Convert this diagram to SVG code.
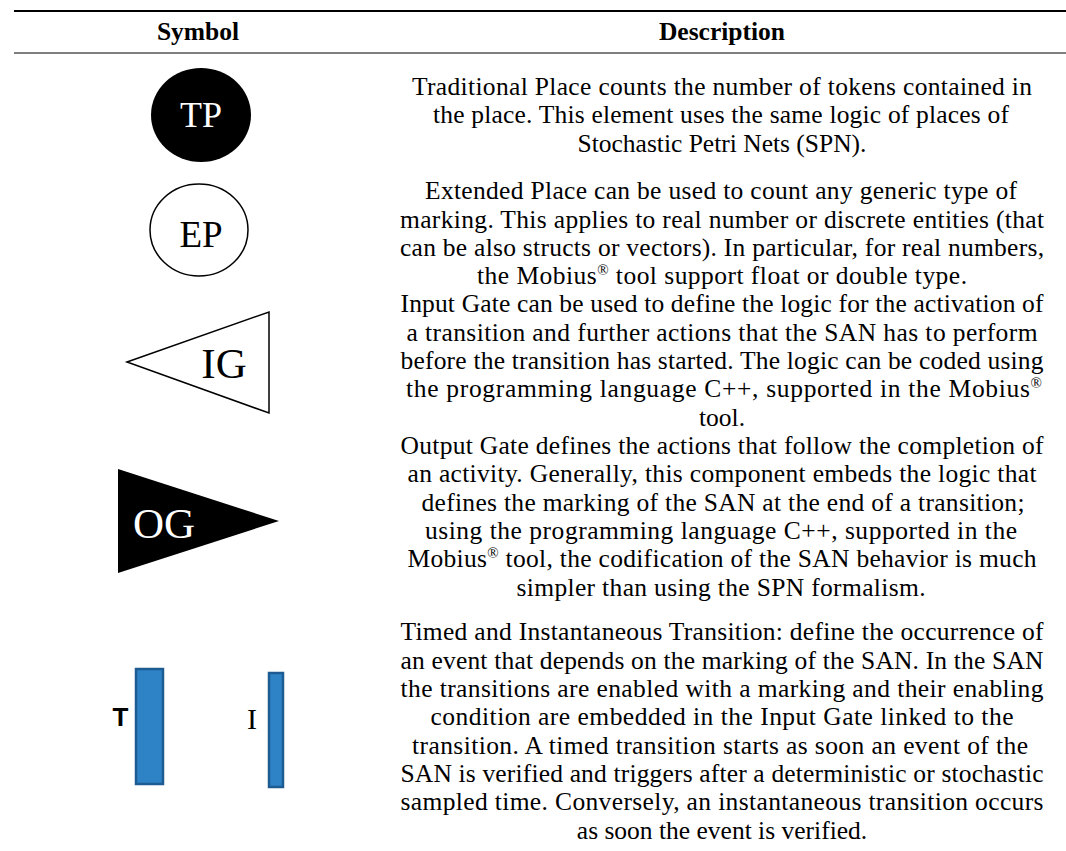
<svg xmlns="http://www.w3.org/2000/svg" width="1066" height="851" viewBox="0 0 1066 851">
  <style>
    .hd { font-family: "Liberation Serif", "Times New Roman", serif; font-weight: bold; font-size: 25.5px; fill: #000; text-anchor: middle; }
    .tx { font-family: "Liberation Serif", "Times New Roman", serif; font-size: 25.5px; fill: #000; text-anchor: middle; }
    .sup { font-size: 15px; }
    .lbl { font-family: "Liberation Serif", "Times New Roman", serif; text-anchor: middle; }
    .rule { stroke: #000; }
    .trans { fill: #2E82C6; stroke: #1C5C92; stroke-width: 2.5; }
  </style>

  <rect width="1066" height="851" fill="#fff"/>

  <!-- table rules -->
  <line class="rule" x1="14" y1="11" x2="1066" y2="11" stroke-width="2"/>
  <line class="rule" x1="14" y1="53" x2="1066" y2="53" stroke-width="1.2"/>

  <!-- header -->
  <text class="hd" x="198" y="40">Symbol</text>
  <text class="hd" x="722" y="40">Description</text>

  <!-- symbols -->
  <g id="tp">
    <ellipse cx="201" cy="115" rx="50" ry="47" fill="#000"/>
    <text class="lbl" x="201" y="127" font-size="36" fill="#fff">TP</text>
  </g>
  <g id="ep">
    <ellipse cx="199" cy="230" rx="49" ry="46" fill="#fff" stroke="#000" stroke-width="1.5"/>
    <text class="lbl" x="201" y="247" font-size="37" fill="#000">EP</text>
  </g>
  <g id="ig">
    <polygon points="127,362 269,312 269,413" fill="#fff" stroke="#000" stroke-width="1.5"/>
    <text class="lbl" x="224" y="378" font-size="43" fill="#000">IG</text>
  </g>
  <g id="og">
    <polygon points="118,469 279,521 118,573" fill="#000"/>
    <text class="lbl" x="164" y="538" font-size="43" fill="#fff">OG</text>
  </g>
  <g id="timed">
    <rect class="trans" x="136" y="669" width="27" height="115"/>
    <text x="120.5" y="726" font-family="Liberation Sans, Arial, sans-serif" font-weight="bold" font-size="26" text-anchor="middle">T</text>
  </g>
  <g id="instant">
    <rect class="trans" x="269" y="673" width="14" height="114"/>
    <text class="lbl" x="252" y="729" font-size="30">I</text>
  </g>

  <!-- descriptions -->
  <g id="desc-tp">
    <text class="tx" x="722" y="95" textLength="620">Traditional Place counts the number of tokens contained in</text>
    <text class="tx" x="721" y="123" textLength="576">the place. This element uses the same logic of places of</text>
    <text class="tx" x="722" y="151.5">Stochastic Petri Nets (SPN).</text>
  </g>
  <g id="desc-ep">
    <text class="tx" x="721" y="199" textLength="592">Extended Place can be used to count any generic type of</text>
    <text class="tx" x="722" y="227.5" textLength="644">marking. This applies to real number or discrete entities (that</text>
    <text class="tx" x="722" y="256" textLength="644">can be also structs or vectors). In particular, for real numbers,</text>
    <text class="tx" x="722" y="284" textLength="490">the Mobius<tspan class="sup" dy="-9">®</tspan><tspan dy="9"> tool support float or double type.</tspan></text>
  </g>
  <g id="desc-ig">
    <text class="tx" x="722" y="312" textLength="643">Input Gate can be used to define the logic for the activation of</text>
    <text class="tx" x="722" y="340.5" textLength="631">a transition and further actions that the SAN has to perform</text>
    <text class="tx" x="722" y="369" textLength="643">before the transition has started. The logic can be coded using</text>
    <text class="tx" x="724" y="397" textLength="636">the programming language C++, supported in the Mobius<tspan class="sup" dy="-9">®</tspan></text>
    <text class="tx" x="722" y="425.5">tool.</text>
  </g>
  <g id="desc-og">
    <text class="tx" x="722" y="454" textLength="643">Output Gate defines the actions that follow the completion of</text>
    <text class="tx" x="722" y="482" textLength="629">an activity. Generally, this component embeds the logic that</text>
    <text class="tx" x="723" y="510.5" textLength="603">defines the marking of the SAN at the end of a transition;</text>
    <text class="tx" x="721" y="539" textLength="592">using the programming language C++, supported in the</text>
    <text class="tx" x="722" y="567" textLength="629">Mobius<tspan class="sup" dy="-9">®</tspan><tspan dy="9"> tool, the codification of the SAN behavior is much</tspan></text>
    <text class="tx" x="721" y="595.5" textLength="409">simpler than using the SPN formalism.</text>
  </g>
  <g id="desc-tr">
    <text class="tx" x="722" y="640" textLength="643">Timed and Instantaneous Transition: define the occurrence of</text>
    <text class="tx" x="722" y="668.5" textLength="643">an event that depends on the marking of the SAN. In the SAN</text>
    <text class="tx" x="722" y="697" textLength="643">the transitions are enabled with a marking and their enabling</text>
    <text class="tx" x="722" y="725" textLength="583">condition are embedded in the Input Gate linked to the</text>
    <text class="tx" x="720" y="753.5" textLength="616">transition. A timed transition starts as soon an event of the</text>
    <text class="tx" x="722" y="782" textLength="643">SAN is verified and triggers after a deterministic or stochastic</text>
    <text class="tx" x="722" y="810" textLength="643">sampled time. Conversely, an instantaneous transition occurs</text>
    <text class="tx" x="722" y="838.5">as soon the event is verified.</text>
  </g>
</svg>
